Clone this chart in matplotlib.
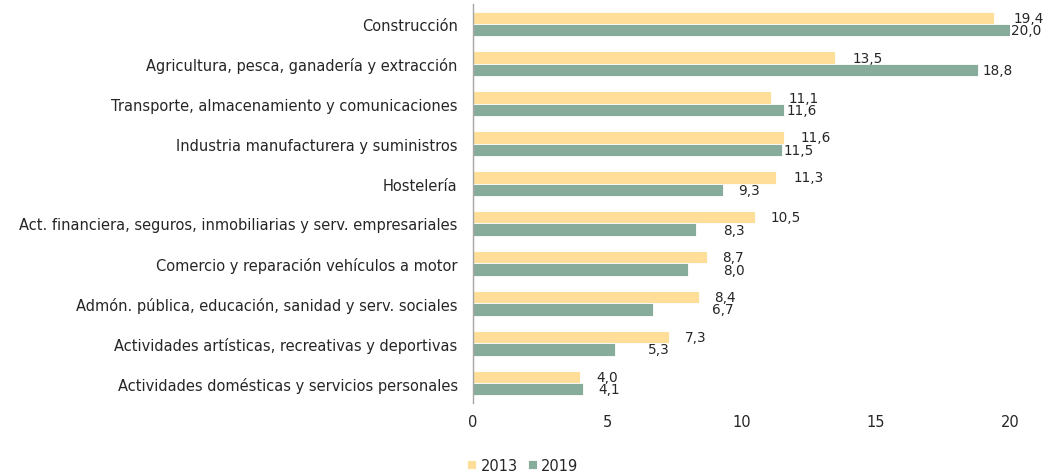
import matplotlib
matplotlib.use("Agg")
import matplotlib.pyplot as plt
import numpy as np

categories = [
    "Construcción",
    "Agricultura, pesca, ganadería y extracción",
    "Transporte, almacenamiento y comunicaciones",
    "Industria manufacturera y suministros",
    "Hostelería",
    "Act. financiera, seguros, inmobiliarias y serv. empresariales",
    "Comercio y reparación vehículos a motor",
    "Admón. pública, educación, sanidad y serv. sociales",
    "Actividades artísticas, recreativas y deportivas",
    "Actividades domésticas y servicios personales",
]
values_2013 = [19.4, 13.5, 11.1, 11.6, 11.3, 10.5, 8.7, 8.4, 7.3, 4.0]
values_2019 = [20.0, 18.8, 11.6, 11.5, 9.3, 8.3, 8.0, 6.7, 5.3, 4.1]
series_names = ["2013", "2019"]
x_ticks = [0, 5, 10, 15, 20]

# label offsets in pixels (style only)
off_2013 = [20, 17, 18, 16, 17, 16, 16, 16, 16, 16]
off_2019 = [1, 5, 2, 2, 15, 27, 35, 59, 33, 15]

plt.rcParams['font.family'] = ['DejaVu Sans']
c13 = "#FFDE9A"
c19 = "#88AC9C"
txt = "#262626"

fig = plt.figure(figsize=(10.52, 4.77), dpi=100)
ax = fig.add_axes([0.4496, 0.153, 0.5105, 0.8365])

y = np.arange(len(categories))
h = 0.31
b1 = ax.barh(y - h / 2, values_2013, height=h, color=c13, edgecolor="white", linewidth=0.6, label=series_names[0])
b2 = ax.barh(y + h / 2, values_2019, height=h, color=c19, edgecolor="white", linewidth=0.6, label=series_names[1])

px = 0.72
fs = 10.5
vfs = 9.8
for rect, v, o in zip(b1, values_2013, off_2013):
    ax.annotate(f"{v:.1f}".replace(".", ","), (rect.get_width(), rect.get_y() + rect.get_height() / 2),
                xytext=(o * px, 0), textcoords="offset points", va="center", ha="left",
                fontsize=vfs, color=txt, annotation_clip=False)
for rect, v, o in zip(b2, values_2019, off_2019):
    ax.annotate(f"{v:.1f}".replace(".", ","), (rect.get_width(), rect.get_y() + rect.get_height() / 2),
                xytext=(o * px, 0), textcoords="offset points", va="center", ha="left",
                fontsize=vfs, color=txt, annotation_clip=False)

ax.set_ylim(len(categories) - 0.5, -0.5)
ax.set_xlim(0, 20)
ax.set_yticks(y)
ax.set_yticklabels(categories, fontsize=fs, color=txt)
ax.set_xticks(x_ticks)
ax.set_xticklabels([str(t) for t in x_ticks], fontsize=fs, color=txt)
ax.tick_params(axis="both", length=0)
ax.tick_params(axis="y", pad=11)
ax.tick_params(axis="x", pad=8)
for s in ["top", "right", "bottom"]:
    ax.spines[s].set_visible(False)
ax.spines["left"].set_color("#a6a6a6")
ax.spines["left"].set_linewidth(1.0)

leg = fig.legend(handles=[b1, b2], labels=series_names, loc="center", bbox_to_anchor=(0.497, 0.023),
                 ncol=2, frameon=False, fontsize=fs, handlelength=0.6, handleheight=0.6,
                 handletextpad=0.3, columnspacing=0.7)
for t in leg.get_texts():
    t.set_color(txt)

fig.savefig("out.png", dpi=100)
